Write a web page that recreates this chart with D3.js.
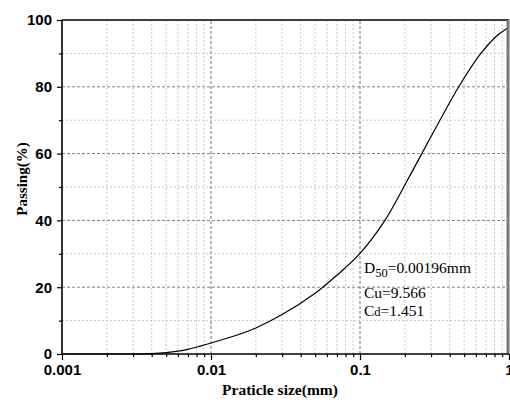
<!DOCTYPE html>
<html>
<head>
<meta charset="utf-8">
<script src="https://cdn.jsdelivr.net/npm/d3@7"></script>
<style>
  body { margin: 0; background: #fff; }
  svg { font-family: "Liberation Serif", "Times New Roman", serif; }
  .tick-label { font-weight: bold; font-size: 15px; }
</style>
</head>
<body>
<svg id="chart" width="510" height="400"></svg>
<script>
// particle size (mm) and cumulative passing (%)
const sizes = [0.001, 0.002, 0.003, 0.004, 0.005, 0.007, 0.01, 0.015, 0.02, 0.03, 0.05,
  0.07, 0.1, 0.147, 0.208, 0.26, 0.344, 0.46, 0.638, 0.827, 1];
const passing = [0, 0, 0, 0.1, 0.4, 1.4, 3.3, 5.7, 7.8, 11.8, 18.2,
  23.6, 30.1, 40, 52, 60, 70, 80, 89.6, 95.2, 97.8];
const xTicks = [0.001, 0.01, 0.1, 1];
const xTickLabels = ['0.001', '0.01', '0.1', '1'];
const yTicks = [0, 20, 40, 60, 80, 100];
const yMinor = [10, 30, 50, 70, 90];

const margin = { top: 20, right: 1, bottom: 46, left: 62 };
const width = 510;
const height = 400;

const svg = d3.select('#chart');

const x = d3.scaleLog().domain([0.001, 1]).range([margin.left, width - margin.right]);
const y = d3.scaleLinear().domain([0, 100]).range([height - margin.bottom, margin.top]);

// minor x positions: 2..9 in each decade
const xMinor = [];
[0.001, 0.01, 0.1].forEach(d => {
  d3.range(2, 10).forEach(k => xMinor.push(d * k));
});

const grid = svg.append('g');
grid.selectAll('.vminor')
  .data(xMinor)
  .enter()
  .append('line')
  .attr('x1', d => x(d)).attr('x2', d => x(d))
  .attr('y1', y(0)).attr('y2', y(100))
  .attr('stroke', '#c8c8c8')
  .attr('stroke-dasharray', '2,2');
grid.selectAll('.hminor')
  .data(yMinor)
  .enter()
  .append('line')
  .attr('x1', x(0.001)).attr('x2', x(1))
  .attr('y1', d => y(d)).attr('y2', d => y(d))
  .attr('stroke', '#c8c8c8')
  .attr('stroke-dasharray', '2,2');
grid.selectAll('.vmajor')
  .data(xTicks.slice(1, -1))
  .enter()
  .append('line')
  .attr('x1', d => x(d)).attr('x2', d => x(d))
  .attr('y1', y(0)).attr('y2', y(100))
  .attr('stroke', '#707070')
  .attr('stroke-dasharray', '3,2');
grid.selectAll('.hmajor')
  .data(yTicks.slice(1, -1))
  .enter()
  .append('line')
  .attr('x1', x(0.001)).attr('x2', x(1))
  .attr('y1', d => y(d)).attr('y2', d => y(d))
  .attr('stroke', '#808080')
  .attr('stroke-dasharray', '3,2');

// curve (smooth through the read-off points)
const line = d3.line()
  .x(d => x(d[0]))
  .y(d => Math.min(y(0), y(d[1])))
  .curve(d3.curveCatmullRom.alpha(0.5));
svg.append('path')
  .datum(sizes.map((s, i) => [s, passing[i]]))
  .attr('fill', 'none')
  .attr('stroke', '#000')
  .attr('stroke-width', 1.2)
  .attr('d', line);

// frame: top black, right gray
svg.append('line')
  .attr('x1', x(0.001)).attr('x2', x(1))
  .attr('y1', y(100)).attr('y2', y(100))
  .attr('stroke', '#000').attr('stroke-width', 1.5);
svg.append('line')
  .attr('x1', x(1) - 1).attr('x2', x(1) - 1)
  .attr('y1', y(100)).attr('y2', y(0))
  .attr('stroke', '#7a7a7a').attr('stroke-width', 3);

// x axis
const xAxis = svg.append('g').attr('transform', `translate(0,${y(0)})`);
xAxis.append('g')
  .call(d3.axisBottom(x).tickValues(xMinor).tickSize(3).tickFormat(''))
  .call(g => g.select('.domain').remove());
xAxis.append('g')
  .call(d3.axisBottom(x).tickValues(xTicks).tickSize(6).tickPadding(4)
    .tickFormat((d, i) => xTickLabels[i]))
  .call(g => g.select('.domain').attr('d', `M${x(0.001)},0H${x(1)}`).attr('stroke-width', 1.6))
  .call(g => g.selectAll('text').attr('class', 'tick-label').attr('fill', '#000'));
xAxis.selectAll('line').attr('stroke', '#000').attr('stroke-width', 1.2);

// y axis
const yAxis = svg.append('g').attr('transform', `translate(${x(0.001)},0)`);
yAxis.append('g')
  .call(d3.axisLeft(y).tickValues(yMinor).tickSize(3).tickFormat(''))
  .call(g => g.select('.domain').remove());
yAxis.append('g')
  .call(d3.axisLeft(y).tickValues(yTicks).tickSize(5).tickPadding(5))
  .call(g => g.select('.domain').attr('d', `M0,${y(0)}V${y(100)}`).attr('stroke-width', 1.6))
  .call(g => g.selectAll('text').attr('class', 'tick-label').attr('fill', '#000'));
yAxis.selectAll('line').attr('stroke', '#000').attr('stroke-width', 1.2);

// axis titles
svg.append('text')
  .attr('x', 280)
  .attr('y', 395)
  .attr('text-anchor', 'middle')
  .style('font-weight', 'bold')
  .style('font-size', '15.5px')
  .text('Praticle size(mm)');
svg.append('text')
  .attr('transform', 'translate(27,179)rotate(-90)')
  .attr('text-anchor', 'middle')
  .style('font-weight', 'bold')
  .style('font-size', '15px')
  .text('Passing(%)');

// annotation
const note = svg.append('g').style('font-size', '15.5px');
const d50 = note.append('text').attr('x', 364).attr('y', 273);
d50.append('tspan').text('D');
d50.append('tspan').attr('dy', 4).style('font-size', '12.5px').text('50');
d50.append('tspan').attr('dy', -4).text('=0.00196mm');
note.append('text').attr('x', 364).attr('y', 298).text('Cu=9.566');
const cd = note.append('text').attr('x', 364).attr('y', 316);
cd.append('tspan').text('C');
cd.append('tspan').style('font-size', '12.5px').text('d');
cd.append('tspan').text('=1.451');
</script>
</body>
</html>
